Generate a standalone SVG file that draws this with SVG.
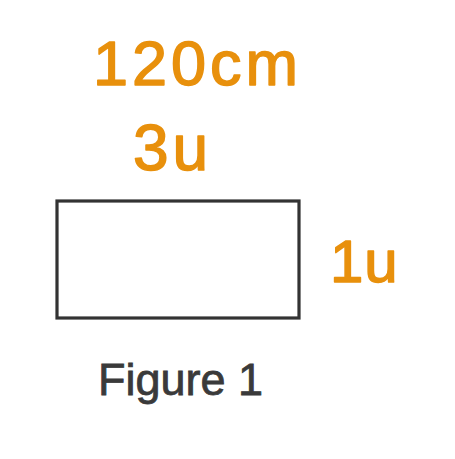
<svg xmlns="http://www.w3.org/2000/svg" width="455" height="459" viewBox="0 0 455 459">
<style>
.lbl{font-family:"Liberation Sans",Arial,sans-serif;fill:#E8900C;stroke:#E8900C;stroke-width:1.5;stroke-linejoin:round;letter-spacing:4px}
.cap{font-family:"Liberation Sans",Arial,sans-serif;fill:#3a3a3a;stroke:#3a3a3a;stroke-width:0.8}
</style>
<rect width="455" height="459" fill="#ffffff"/>
<g id="rect-node">
<rect x="57" y="201" width="242" height="117" fill="none" stroke="#333333" stroke-width="3.2"/>
</g>
<g id="label-120cm"><text class="lbl" x="93" y="85" font-size="63">120cm</text></g>
<g id="label-3u"><text class="lbl" x="133" y="170" font-size="64">3u</text></g>
<g id="label-1u"><text class="lbl" x="330" y="282" font-size="60" style="letter-spacing:1px">1u</text></g>
<g id="caption"><text class="cap" x="98" y="395" font-size="45">Figure 1</text></g>
<g id="connectors"/>
</svg>
